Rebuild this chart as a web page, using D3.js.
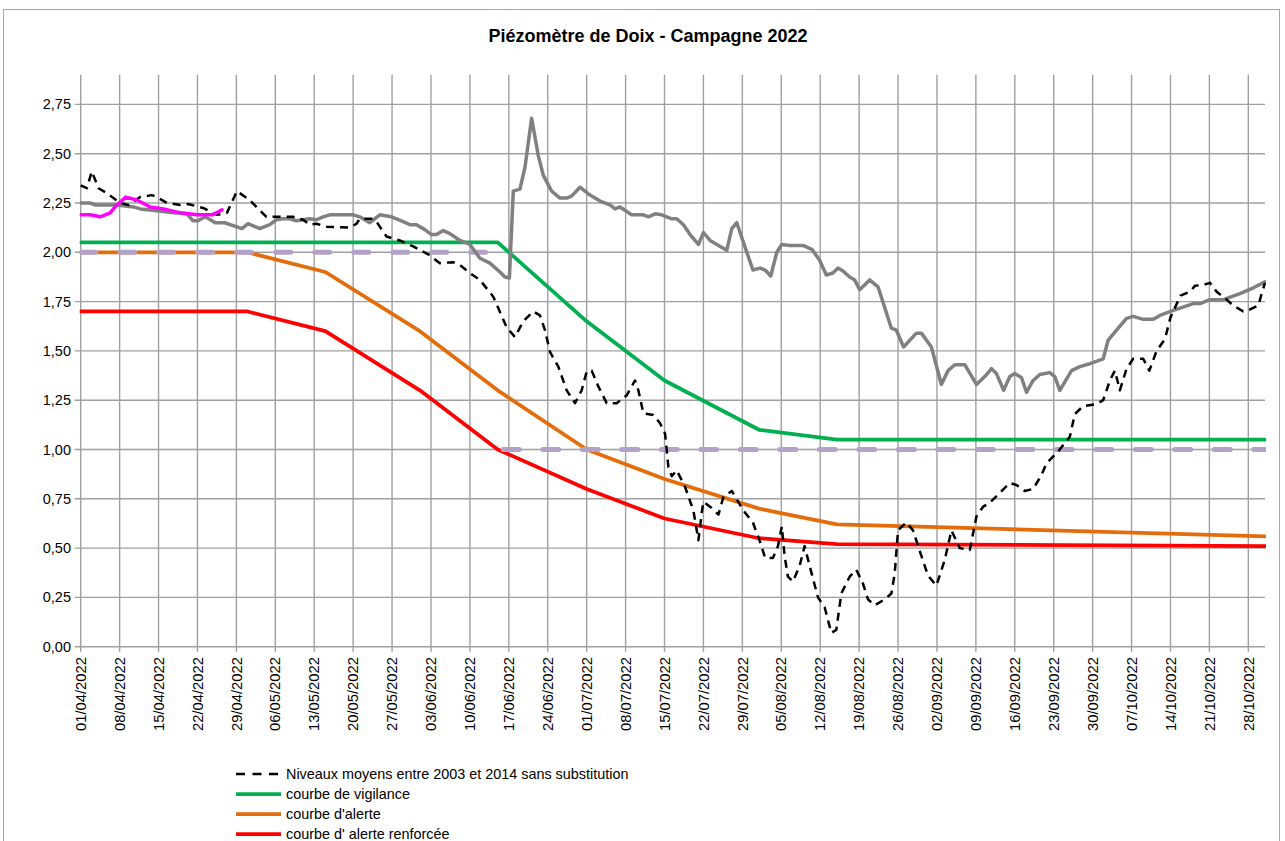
<!DOCTYPE html>
<html><head><meta charset="utf-8">
<script src="https://cdn.jsdelivr.net/npm/d3@7/dist/d3.min.js"></script>
<style>
body{margin:0;background:#fff;}
svg{display:block;font-family:"Liberation Sans",Arial,sans-serif;}
</style>
</head><body>
<svg id="chart" width="1285" height="841"></svg>
<script>
// ---------- DATA ----------
const titre = "Piézomètre de Doix - Campagne 2022";
const dateDebut = "01/04/2022";
const dateFin = "31/10/2022";
const yTicks = [0, 0.25, 0.5, 0.75, 1, 1.25, 1.5, 1.75, 2, 2.25, 2.5, 2.75];
const yMax = 2.9;
const xTickLabels = ["01/04/2022","08/04/2022","15/04/2022","22/04/2022","29/04/2022","06/05/2022","13/05/2022","20/05/2022","27/05/2022","03/06/2022","10/06/2022","17/06/2022","24/06/2022","01/07/2022","08/07/2022","15/07/2022","22/07/2022","29/07/2022","05/08/2022","12/08/2022","19/08/2022","26/08/2022","02/09/2022","09/09/2022","16/09/2022","23/09/2022","30/09/2022","07/10/2022","14/10/2022","21/10/2022","28/10/2022"];

// days counted from 01/04/2022
const vigilanceJours   = [0, 75, 91, 105, 122, 136, 213];
const vigilanceValeurs = [2.05, 2.05, 1.65, 1.35, 1.10, 1.05, 1.05];

const alerteJours   = [0, 30, 44, 61, 75, 91, 105, 122, 136, 213];
const alerteValeurs = [2.00, 2.00, 1.90, 1.60, 1.30, 1.00, 0.85, 0.70, 0.62, 0.56];

const renforceeJours   = [0, 30, 44, 61, 75, 91, 105, 122, 136, 213];
const renforceeValeurs = [1.70, 1.70, 1.60, 1.30, 1.00, 0.80, 0.65, 0.55, 0.52, 0.51];

const seuilHautJours = [0, 75];
const seuilHautValeurs = [2.00, 2.00];
const seuilBasJours = [76, 213];
const seuilBasValeurs = [1.00, 1.00];

const magentaJours = [0, 1.7, 3.5, 5.3, 6.5, 8.1, 10.1, 12.5, 14.9, 17.9, 20.9, 23.8, 25.4];
const magentaValeurs = [2.19, 2.19, 2.18, 2.20, 2.24, 2.28, 2.265, 2.23, 2.22, 2.20, 2.19, 2.19, 2.215];

const grisJours = [0,1.7,2.6,6.5,9.5,10.7,12.5,16.7,19.1,20.2,21.1,22.4,24.2,25.9,29.0,30.1,32.2,34.0,35.2,36.4,37.6,38.8,40.0,41.2,42.4,43.6,44.8,49.0,50.2,52.0,53.8,55.9,58.0,59.2,60.4,61.9,63.1,64.0,65.2,66.4,68.2,70.0,71.8,73.6,75.4,76.3,77.1,77.8,79.0,79.9,81.1,82.3,83.2,84.7,86.2,87.4,88.3,89.8,91.6,93.4,95.2,96.1,97.0,99.1,101.2,102.1,103.3,104.5,106.3,107.2,108.4,109.6,111.1,112.0,113.2,114.4,116.2,117.1,118.0,119.2,120.9,122.2,123.1,124.1,125.2,126.1,127.5,129.9,131.5,132.9,134.1,135.3,136.2,137.1,138.3,139.2,140.1,141.9,143.4,145.8,146.7,148.0,150.3,151.2,153.0,154.8,156.0,157.2,159.0,161.1,162.6,163.8,164.7,166.0,167.1,168.0,169.2,170.1,171.3,172.5,174.3,175.2,176.1,178.2,179.7,181.5,183.9,184.8,186.3,188.1,189.3,191.1,192.9,194.1,196.5,200.1,201.3,203.1,205.5,208.5,210.9,213.0];
const grisValeurs = [2.25,2.25,2.24,2.24,2.23,2.22,2.215,2.20,2.195,2.16,2.16,2.18,2.15,2.15,2.12,2.145,2.12,2.14,2.165,2.17,2.17,2.16,2.165,2.17,2.165,2.18,2.19,2.19,2.18,2.15,2.19,2.18,2.155,2.14,2.14,2.115,2.09,2.09,2.11,2.095,2.06,2.04,1.97,1.945,1.90,1.875,1.87,2.31,2.32,2.43,2.68,2.49,2.39,2.31,2.275,2.275,2.285,2.33,2.29,2.26,2.24,2.22,2.23,2.19,2.19,2.18,2.195,2.19,2.17,2.17,2.14,2.09,2.04,2.10,2.06,2.04,2.01,2.12,2.15,2.05,1.91,1.92,1.91,1.88,2.00,2.04,2.035,2.035,2.015,1.96,1.885,1.895,1.92,1.905,1.875,1.86,1.81,1.86,1.825,1.615,1.605,1.52,1.59,1.59,1.52,1.33,1.40,1.43,1.43,1.33,1.37,1.41,1.385,1.30,1.37,1.385,1.365,1.29,1.35,1.38,1.39,1.37,1.30,1.40,1.42,1.435,1.46,1.555,1.605,1.665,1.675,1.66,1.66,1.68,1.705,1.74,1.74,1.76,1.76,1.79,1.82,1.85];

const niveauxJours = [0,1.1,2.0,3.2,4.7,7.1,8.6,10.7,12.8,13.7,15.5,17.9,19.3,22.0,24.5,26.3,28.1,28.6,30.4,31.6,33.4,34.6,38.2,40.0,41.2,42.4,44.2,48.4,49.6,50.2,52.3,53.2,55.0,57.4,59.8,62.5,64.6,67.0,68.2,70.0,71.8,74.2,76.6,78.1,79.6,81.4,82.6,83.5,84.4,85.9,87.4,88.9,90.1,91.0,91.9,93.1,94.6,96.4,98.2,99.7,100.3,101.2,103.0,104.2,105.1,105.7,106.3,107.2,108.7,110.2,111.1,111.7,112.0,113.2,114.7,115.6,117.1,119.2,120.9,122.2,123.1,124.5,125.4,126.1,126.6,127.2,128.1,129.3,130.2,131.1,132.6,133.8,135.0,135.9,136.8,138.3,139.5,140.7,141.6,142.8,144.6,145.8,146.4,147.0,148.5,149.7,151.2,152.4,153.9,155.4,156.6,158.1,159.9,161.1,162.3,163.5,165.3,167.1,168.3,169.8,171.3,172.8,173.7,175.8,177.9,178.8,180.3,182.7,183.9,185.1,186.0,186.9,188.1,189.3,191.1,192.2,193.5,195.0,196.0,197.8,199.5,200.4,201.9,203.1,204.3,206.1,207.3,209.1,210.3,211.8,212.4,213.0];
const niveauxValeurs = [2.34,2.325,2.41,2.325,2.30,2.25,2.24,2.28,2.29,2.28,2.25,2.24,2.245,2.225,2.19,2.20,2.31,2.30,2.265,2.23,2.18,2.18,2.18,2.165,2.14,2.145,2.13,2.125,2.145,2.17,2.17,2.155,2.08,2.06,2.03,1.99,1.945,1.95,1.935,1.895,1.86,1.775,1.62,1.57,1.65,1.70,1.68,1.605,1.495,1.42,1.30,1.235,1.30,1.395,1.40,1.32,1.235,1.235,1.275,1.35,1.30,1.183,1.175,1.133,1.08,0.91,0.865,0.895,0.81,0.69,0.54,0.68,0.735,0.71,0.67,0.76,0.79,0.69,0.63,0.53,0.45,0.45,0.51,0.61,0.46,0.355,0.33,0.41,0.51,0.41,0.25,0.20,0.07,0.085,0.27,0.355,0.39,0.32,0.24,0.21,0.24,0.27,0.37,0.59,0.63,0.59,0.46,0.36,0.31,0.44,0.59,0.50,0.49,0.66,0.71,0.73,0.78,0.83,0.82,0.79,0.80,0.87,0.93,0.99,1.065,1.18,1.22,1.23,1.25,1.35,1.40,1.30,1.41,1.46,1.46,1.40,1.50,1.56,1.67,1.78,1.80,1.83,1.835,1.845,1.80,1.76,1.73,1.70,1.71,1.73,1.79,1.845];

const legendeLibelles = ["Niveaux moyens entre 2003 et 2014 sans substitution","courbe de vigilance","courbe d'alerte","courbe d' alerte renforcée"];

// ---------- CHART ----------
const parse = d3.utcParse("%d/%m/%Y");
const t0 = parse(dateDebut);
const toDate = j => new Date(t0.getTime() + j * 864e5);
const pts = (js, vs) => js.map((j, i) => ({d: toDate(j), v: vs[i]}));

const svg = d3.select("#chart");
const L = 80.7, R = 1265, B = 646.7;

const x = d3.scaleUtc().domain([t0, parse(dateFin)]).range([L, R]);
const y = d3.scaleLinear().domain([0, yMax]).range([B, B - yMax * 197.2]);
const T = y(yMax);

// chart area border
svg.append("rect").attr("x", 3.5).attr("y", 9.5).attr("width", 1276).attr("height", 850)
  .attr("fill", "#fff").attr("stroke", "#a6a6a6").attr("stroke-width", 1);

// title
svg.append("text").attr("x", 648).attr("y", 42).attr("text-anchor", "middle")
  .attr("font-size", 18).attr("font-weight", "bold").attr("fill", "#000").text(titre);

const tickDates = xTickLabels.map(parse);

// vertical gridlines + ticks
svg.append("g").selectAll("line").data(tickDates).join("line")
  .attr("x1", d => x(d)).attr("x2", d => x(d))
  .attr("y1", T).attr("y2", B + 5)
  .attr("stroke", "#a0a0a0").attr("stroke-width", 1.4);
// horizontal gridlines + ticks
svg.append("g").selectAll("line").data(yTicks).join("line")
  .attr("x1", L - 6).attr("x2", R)
  .attr("y1", d => y(d)).attr("y2", d => y(d))
  .attr("stroke", "#a0a0a0").attr("stroke-width", 1.4);

// y labels
const fmt = v => d3.format(".2f")(v).replace(".", ",");
svg.append("g").selectAll("text").data(yTicks).join("text")
  .attr("x", 71).attr("y", d => y(d)).attr("dy", "0.35em").attr("text-anchor", "end")
  .attr("font-size", 14.5).attr("fill", "#000").text(fmt);

// x labels
svg.append("g").selectAll("text").data(tickDates).join("text")
  .attr("transform", d => `translate(${x(d)},657) rotate(-90)`)
  .attr("dy", "0.35em").attr("text-anchor", "end")
  .attr("font-size", 14.8).attr("fill", "#000")
  .text((d, i) => xTickLabels[i]);

// clip
svg.append("clipPath").attr("id", "plot").append("rect")
  .attr("x", L - 1).attr("y", T - 4).attr("width", R - L + 2).attr("height", B - T + 8);
const g = svg.append("g").attr("clip-path", "url(#plot)");

const line = d3.line().x(p => x(p.d)).y(p => y(p.v));
function draw(data, color, width, dash, cap) {
  g.append("path").datum(data).attr("d", line)
    .attr("fill", "none").attr("stroke", color).attr("stroke-width", width)
    .attr("stroke-linejoin", "round").attr("stroke-linecap", cap || "round")
    .attr("stroke-dasharray", dash || null);
}
const C = {vig: "#00b050", ale: "#e46c0a", ren: "#ff0000", gris: "#808080", mag: "#ff00ff", lav: "#b3a2c7", niv: "#000"};

draw(pts(vigilanceJours, vigilanceValeurs), C.vig, 3.75);
draw(pts(alerteJours, alerteValeurs), C.ale, 3.75);
draw(pts(renforceeJours, renforceeValeurs), C.ren, 3.75);
draw(pts(seuilHautJours, seuilHautValeurs), C.lav, 5, "15,24");
draw(pts(seuilBasJours, seuilBasValeurs), C.lav, 5, "16,23.5");
draw(pts(grisJours, grisValeurs), C.gris, 3.5);
draw(pts(niveauxJours, niveauxValeurs), C.niv, 2.5, "8,6", "butt");
draw(pts(magentaJours, magentaValeurs), C.mag, 3.5);

// legend
const legStyles = [
  {c: C.niv, w: 2.5, dash: "9,7.5"},
  {c: C.vig, w: 3.75},
  {c: C.ale, w: 3.75},
  {c: C.ren, w: 3.75}
];
const leg = svg.append("g");
legendeLibelles.forEach((lab, i) => {
  const yy = 774 + i * 20;
  leg.append("line").attr("x1", 236).attr("x2", 281).attr("y1", yy).attr("y2", yy)
    .attr("stroke", legStyles[i].c).attr("stroke-width", legStyles[i].w)
    .attr("stroke-dasharray", legStyles[i].dash || null);
  leg.append("text").attr("x", 286).attr("y", yy).attr("dy", "0.35em")
    .attr("font-size", 14.4).attr("fill", "#000").text(lab);
});
</script>
</body></html>
